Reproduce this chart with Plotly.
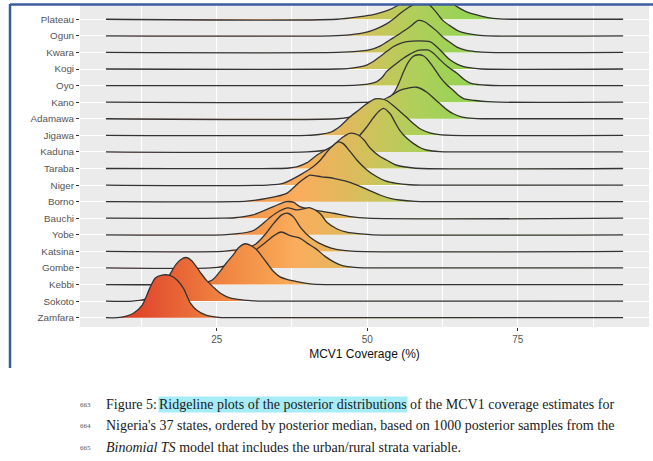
import plotly.graph_objects as go

# ---------------- data ----------------
states = ["Zamfara", "Sokoto", "Kebbi", "Gombe", "Katsina", "Yobe", "Bauchi",
          "Borno", "Niger", "Taraba", "Kaduna", "Jigawa", "Adamawa", "Kano",
          "Oyo", "Kogi", "Kwara", "Ogun", "Plateau"]

# density outlines: coverage value (%) and ridge height (in row units)
ridge_x = [
    [8.5, 10, 11.1, 12.6, 13.9, 14.8, 15.9, 17.2, 18.4, 19.5, 20.6, 21.7, 23.2, 25, 27],
    [11, 13, 14.5, 16, 17.2, 18.2, 19.0, 19.9, 20.8, 22.2, 23.3, 24.4, 25.5, 26.7, 28.5, 31, 33],
    [20, 22, 24.2, 25.5, 26.6, 27.7, 28.7, 29.7, 30.7, 31.7, 32.6, 33.4, 34.4, 35.5, 37.2, 38.8, 40.5, 43],
    [24, 26, 28, 30, 31.4, 33, 34.5, 35.7, 37.2, 38.8, 40, 41.5, 43, 44.5, 46, 48, 50],
    [26, 28, 30, 31.5, 33, 34.5, 35.8, 36.8, 37.8, 39, 40.5, 42, 44, 46, 48],
    [26, 28, 31.1, 33.9, 35.5, 36.8, 38.2, 39.2, 40.5, 42.2, 43.3, 45, 46.6, 49, 51],
    [26, 28, 31, 34.4, 36.6, 37.8, 38.8, 41, 44.4, 47.2, 50],
    [28, 30, 33.3, 36.6, 38.5, 40.5, 41.5, 42.4, 44.4, 46.3, 48.3, 50.2, 52.1, 54, 55.4, 58, 60],
    [33.5, 36, 38.8, 41, 42.2, 43.8, 45.2, 46, 47.2, 48.3, 50, 51.6, 53, 54.9, 57, 59],
    [35, 37, 38.3, 40, 41.6, 43, 44.4, 45.8, 47.1, 48.5, 49.5, 50.5, 52, 53.2, 54.5, 55.4, 57, 59],
    [40, 43, 45, 47, 48.5, 49.9, 51, 51.8, 52.7, 53.8, 54.6, 55.4, 56.5, 57.7, 59, 60, 62, 64],
    [40, 42, 44, 45.5, 47.1, 48.5, 49.9, 51.3, 52.3, 53.2, 54.3, 55.4, 56.5, 57.7, 59, 60.4, 62, 64],
    [45, 47.1, 48.8, 50.4, 51.6, 52.7, 53.8, 55.4, 56.8, 58.2, 59.9, 61, 62.1, 63.2, 64.3, 65.8, 67.6, 69],
    [51, 52.5, 53.5, 54.5, 55.2, 56, 56.8, 57.6, 58.5, 59.3, 59.9, 61, 62.1, 63.2, 64.3, 65.2, 66, 68, 70, 72],
    [46, 48.8, 50.5, 51.6, 52.5, 53.2, 54.9, 56, 57.1, 58.2, 59.3, 60.1, 61, 62.1, 63.5, 64.9, 66, 67.1, 68.5, 70, 72],
    [45, 47.1, 49.9, 51, 52.1, 53.2, 54.3, 55.5, 56.6, 58.5, 60.4, 61.2, 62.1, 63, 63.8, 65, 66, 67.5, 69],
    [45, 48.3, 51, 52.2, 53.2, 54.3, 55.4, 56.3, 57.1, 58.5, 59.5, 60.4, 61.5, 62.6, 63.8, 64.9, 66.5, 68, 70],
    [44, 47.1, 49.9, 51.5, 53.2, 54.3, 55.4, 56.6, 57.8, 59, 60.2, 61.4, 62.6, 64, 65, 66.5, 68.7, 70],
    [45, 48.8, 51, 52.1, 53.5, 54.9, 56, 57.5, 59, 60.5, 62, 63.5, 64.9, 66.5, 68.2, 70, 72, 74],
]
ridge_h = [
    [0, 0.1, 0.25, 0.75, 1.8, 2.4, 2.57, 2.55, 2.27, 1.75, 0.9, 0.45, 0.16, 0.04, 0],
    [0, 0.1, 0.4, 0.95, 1.6, 2.2, 2.5, 2.63, 2.45, 1.77, 1.25, 0.86, 0.5, 0.26, 0.1, 0.02, 0],
    [0, 0.05, 0.26, 0.76, 1.3, 1.77, 2.25, 2.46, 2.35, 2.07, 1.65, 1.27, 0.8, 0.46, 0.26, 0.14, 0.04, 0],
    [0, 0.1, 0.35, 0.75, 1.07, 1.5, 1.95, 2.17, 1.95, 1.8, 1.5, 1.15, 0.7, 0.35, 0.12, 0.03, 0],
    [0, 0.08, 0.2, 0.45, 1.0, 1.7, 2.2, 2.3, 2.05, 1.4, 0.85, 0.5, 0.2, 0.06, 0],
    [0, 0.05, 0.26, 1.06, 1.45, 1.63, 1.5, 1.55, 1.63, 1.27, 0.76, 0.35, 0.16, 0.05, 0],
    [0, 0.03, 0.2, 0.7, 1.0, 0.95, 0.7, 0.5, 0.3, 0.1, 0],
    [0, 0.03, 0.2, 0.5, 1.1, 1.6, 1.55, 1.5, 1.41, 1.25, 1.0, 0.7, 0.4, 0.18, 0.1, 0.02, 0],
    [0, 0.1, 0.6, 1.1, 1.5, 2.2, 2.6, 2.5, 2.0, 1.5, 0.9, 0.5, 0.25, 0.1, 0.02, 0],
    [0, 0.03, 0.1, 0.35, 0.8, 1.1, 1.4, 1.85, 2.12, 2.02, 1.7, 1.22, 0.75, 0.51, 0.25, 0.15, 0.06, 0],
    [0, 0.1, 0.25, 0.5, 0.9, 1.5, 2.05, 2.4, 2.62, 2.3, 1.8, 1.3, 0.85, 0.5, 0.22, 0.1, 0.02, 0],
    [0, 0.05, 0.2, 0.55, 1.1, 1.5, 1.9, 2.2, 2.2, 2.1, 1.8, 1.45, 1.1, 0.7, 0.35, 0.15, 0.04, 0],
    [0, 0.1, 0.28, 0.5, 0.8, 1.15, 1.35, 1.71, 1.85, 1.9, 1.6, 1.25, 0.9, 0.55, 0.3, 0.1, 0.02, 0],
    [0, 0.05, 0.2, 0.6, 1.1, 1.8, 2.4, 2.75, 2.86, 2.8, 2.62, 2.1, 1.51, 1.05, 0.71, 0.4, 0.22, 0.1, 0.03, 0],
    [0, 0.04, 0.12, 0.24, 0.5, 0.84, 1.35, 1.65, 1.9, 2.1, 2.15, 2.15, 1.95, 1.55, 1.1, 0.75, 0.4, 0.15, 0.06, 0.02, 0],
    [0, 0.04, 0.24, 0.45, 0.74, 1.05, 1.34, 1.55, 1.65, 1.7, 1.65, 1.45, 1.15, 0.8, 0.54, 0.28, 0.14, 0.05, 0],
    [0, 0.06, 0.22, 0.4, 0.62, 0.88, 1.13, 1.35, 1.55, 1.93, 1.85, 1.63, 1.3, 0.92, 0.6, 0.32, 0.12, 0.05, 0],
    [0, 0.06, 0.22, 0.42, 0.72, 1.0, 1.33, 1.65, 1.9, 2.0, 1.9, 1.45, 0.92, 0.55, 0.32, 0.15, 0.03, 0],
    [0, 0.16, 0.28, 0.38, 0.55, 0.8, 1.1, 1.5, 1.75, 1.8, 1.6, 1.15, 0.76, 0.45, 0.26, 0.1, 0.02, 0],
]
density_span = [6.6, 92.5]

x_ticks = [25, 50, 75]
x_minor = [12.5, 37.5, 62.5, 87.5]
x_title = "MCV1 Coverage (%)"

fill_stop_values = [6.6, 9, 14, 20, 25, 30, 35, 38, 46, 52, 58, 66, 92.5]
fill_stop_colors = ["#DA2F1B", "#E03A1E", "#E35030", "#E96A38", "#EE803F", "#F39248",
                    "#F8A253", "#FBAC5D", "#E2B85C", "#C9C55B", "#B0CF5A", "#98D356", "#80CC48"]

caption_numbers = ["663", "664", "665"]
caption_line1 = ["Figure 5: ", "Ridgeline plots of the posterior distributions",
                 "of the MCV1 coverage estimates for"]
caption_line2 = "Nigeria's 37 states, ordered by posterior median, based on 1000 posterior samples from the"
caption_line3 = "<i>Binomial TS</i> model that includes the urban/rural strata variable."

# ---------------- layout geometry (pixels) ----------------
W, H = 653, 461
PL, PR, PT, PB = 80, 649, 5, 327
X_RANGE = [2.29, 96.8]
Y_RANGE = [-0.561, 18.861]


def px_x(px):
    return (px - PL) / (PR - PL)


def px_y(py):
    return (PB - py) / (PB - PT)


lo, hi = fill_stop_values[0], fill_stop_values[-1]
colorscale = [[(v - lo) / (hi - lo), c] for v, c in zip(fill_stop_values, fill_stop_colors)]

fig = go.Figure()
for i in range(len(states) - 1, -1, -1):
    xs = [density_span[0]] + ridge_x[i] + [density_span[1]]
    ys = [i] + [i + h for h in ridge_h[i]] + [i]
    fig.add_trace(go.Scatter(x=density_span, y=[i, i], mode="lines",
                             line=dict(width=0, color="rgba(0,0,0,0)"),
                             hoverinfo="skip", showlegend=False))
    fig.add_trace(go.Scatter(
        x=xs, y=ys, mode="lines", name=states[i], showlegend=False,
        line=dict(color="#333333", width=1.3, shape="spline", smoothing=0.8),
        fill="tonexty",
        fillgradient=dict(type="horizontal", start=lo, stop=hi, colorscale=colorscale),
    ))

fig.update_xaxes(
    range=X_RANGE, tickvals=x_ticks, ticktext=[str(t) for t in x_ticks],
    showgrid=True, gridcolor="white", gridwidth=1.2, zeroline=False,
    ticks="outside", ticklen=3, tickcolor="#333333", tickwidth=1,
    tickfont=dict(family="Liberation Sans, Arial", size=10, color="#555555"),
    minor=dict(tickvals=x_minor, showgrid=True, gridcolor="white", gridwidth=0.6, ticks=""),
    showline=False,
    title=dict(text=x_title, standoff=5,
               font=dict(family="Liberation Sans, Arial", size=12, color="#111111")),
)
fig.update_yaxes(
    range=Y_RANGE, tickvals=list(range(len(states))), ticktext=states,
    showgrid=True, gridcolor="white", gridwidth=1.2, zeroline=False,
    ticks="outside", ticklen=3, tickcolor="#333333", tickwidth=1,
    tickfont=dict(family="Liberation Sans, Arial", size=9.8, color="#555555"),
    showline=False,
)

annotations = []
serif = "Liberation Serif, Times New Roman, serif"
cap_size = 14
line_y = [404, 425, 447]
for n, yy in zip(caption_numbers, line_y):
    annotations.append(dict(x=px_x(78), y=px_y(yy + 1), xref="paper", yref="paper",
                            text=n, showarrow=False, xanchor="left", yanchor="middle",
                            font=dict(family=serif, size=7, color="#555555")))
annotations.append(dict(x=px_x(104), y=px_y(line_y[0]), xref="paper", yref="paper",
                        text=caption_line1[0], showarrow=False, xanchor="left", yanchor="middle",
                        font=dict(family=serif, size=cap_size, color="#1A1A1A")))
annotations.append(dict(x=px_x(158), y=px_y(line_y[0]), xref="paper", yref="paper",
                        text=caption_line1[1], showarrow=False, xanchor="left", yanchor="middle",
                        bgcolor="#A6ECF7", borderpad=0,
                        font=dict(family=serif, size=cap_size, color="#1A1A1A")))
annotations.append(dict(x=px_x(408), y=px_y(line_y[0]), xref="paper", yref="paper",
                        text=caption_line1[2], showarrow=False, xanchor="left", yanchor="middle",
                        font=dict(family=serif, size=cap_size, color="#1A1A1A")))
annotations.append(dict(x=px_x(104), y=px_y(line_y[1]), xref="paper", yref="paper",
                        text=caption_line2, showarrow=False, xanchor="left", yanchor="middle",
                        font=dict(family=serif, size=cap_size, color="#1A1A1A")))
annotations.append(dict(x=px_x(104), y=px_y(line_y[2]), xref="paper", yref="paper",
                        text=caption_line3, showarrow=False, xanchor="left", yanchor="middle",
                        font=dict(family=serif, size=cap_size, color="#1A1A1A")))

frame_color = "#3B5C9E"
shapes = [
    dict(type="line", xref="paper", yref="paper", x0=px_x(10), x1=px_x(653),
         y0=px_y(4.5), y1=px_y(4.5), line=dict(color=frame_color, width=2.5)),
    dict(type="line", xref="paper", yref="paper", x0=px_x(10), x1=px_x(10),
         y0=px_y(4), y1=px_y(368), line=dict(color=frame_color, width=2.5)),
]

fig.update_layout(
    width=W, height=H,
    margin=dict(l=PL, r=W - PR, t=PT, b=H - PB, autoexpand=False),
    paper_bgcolor="white", plot_bgcolor="#EBEBEB",
    annotations=annotations, shapes=shapes,
    showlegend=False,
)

fig.write_html("out.html", config={"displayModeBar": False},
               post_script="document.body.style.margin='0px';")
